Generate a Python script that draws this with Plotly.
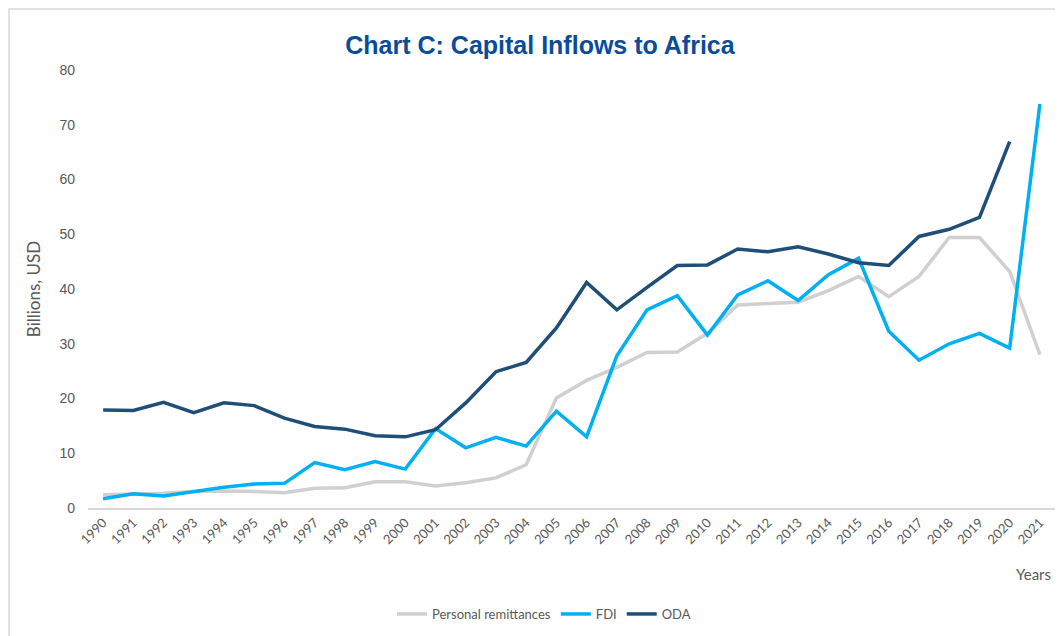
import plotly.graph_objects as go

years = [str(y) for y in range(1990, 2022)]

remittances = [2.4, 2.5, 2.7, 3.0, 3.1, 3.0, 2.8, 3.6, 3.7, 4.8, 4.8, 4.0, 4.6, 5.5, 7.9,
               20.1, 23.3, 25.7, 28.4, 28.5, 31.9, 37.1, 37.3, 37.6, 39.7, 42.3, 38.6,
               42.3, 49.4, 49.4, 43.2, 28.0]
fdi = [1.7, 2.6, 2.2, 3.0, 3.8, 4.4, 4.5, 8.3, 7.0, 8.5, 7.1, 14.5, 11.0, 12.9, 11.3,
       17.7, 13.0, 27.8, 36.2, 38.8, 31.6, 38.9, 41.5, 37.9, 42.6, 45.6, 32.3,
       27.0, 30.0, 31.9, 29.2, 73.8]
oda = [17.9, 17.8, 19.3, 17.4, 19.2, 18.7, 16.4, 14.9, 14.4, 13.2, 13.0, 14.3, 19.2,
       24.9, 26.6, 32.9, 41.2, 36.2, 40.3, 44.3, 44.4, 47.3, 46.8, 47.7, 46.4, 44.8,
       44.3, 49.6, 50.9, 53.1, 66.9, None]

y_ticks = [0, 10, 20, 30, 40, 50, 60, 70, 80]

# plot area in figure pixels (page is offset by 8px body margin)
L, T, R, B = 80, 62, 1047, 500
W, H = 1063, 636
PW, PH = R - L, B - T

fig = go.Figure()
fig.add_trace(go.Scatter(x=years, y=remittances, mode="lines", name="Personal remittances",
                         line=dict(color="#D0D0D0", width=3.5)))
fig.add_trace(go.Scatter(x=years, y=fdi, mode="lines", name="FDI",
                         line=dict(color="#00B0F0", width=3.5)))
fig.add_trace(go.Scatter(x=years, y=oda, mode="lines", name="ODA",
                         line=dict(color="#1F4E79", width=3.5), connectgaps=False))

fig.update_layout(
    width=W, height=H,
    paper_bgcolor="white", plot_bgcolor="white",
    margin=dict(l=L, r=W - R, t=T, b=H - B),
    title=dict(text="<b>Chart C: Capital Inflows to Africa</b>", x=(532 - 0) / W, xanchor="center",
               y=1 - 37/H, yanchor="middle", yref="container",
               font=dict(family="Liberation Sans Narrow, Arial Narrow, sans-serif", size=25, color="#0B4C98")),
    xaxis=dict(type="category", range=[-0.5, 31.5], tickangle=-45, showgrid=False,
               showline=True, linecolor="#D9D9D9", linewidth=2, ticks="", zeroline=False,
               tickfont=dict(family="Lato, Open Sans, sans-serif", size=13, color="#595959")),
    yaxis=dict(range=[0, 80], tickvals=y_ticks, showgrid=False, zeroline=False, showline=False,
               ticks="", ticklabelstandoff=12,
               tickfont=dict(family="Liberation Sans, Arial, sans-serif", size=14, color="#595959"),
               title=dict(text="Billions, USD", standoff=14,
                          font=dict(family="Lato, Open Sans, sans-serif", size=17, color="#595959"))),
    legend=dict(orientation="h", x=(536 - L) / PW, xanchor="center", y=1 - 606/H, yanchor="middle",
                yref="container", font=dict(family="Lato, Open Sans, sans-serif", size=13, color="#595959"),
                itemwidth=30, tracegroupgap=0),
    showlegend=True,
)

fig.add_annotation(text="Years", xref="paper", yref="paper", x=(1045 - L) / PW, xanchor="right",
                   y=-(566 - B) / PH, yanchor="middle", showarrow=False,
                   font=dict(family="Lato, Open Sans, sans-serif", size=15, color="#595959"))

fig.add_shape(type="rect", xref="paper", yref="paper",
              x0=(1 - L) / PW, x1=(W + 5 - L) / PW, y0=-(H + 5 - B) / PH, y1=(B - 1) / PH,
              line=dict(color="#D9D9D9", width=1.5), fillcolor="rgba(0,0,0,0)", layer="below")

fig.write_html("out.html")
